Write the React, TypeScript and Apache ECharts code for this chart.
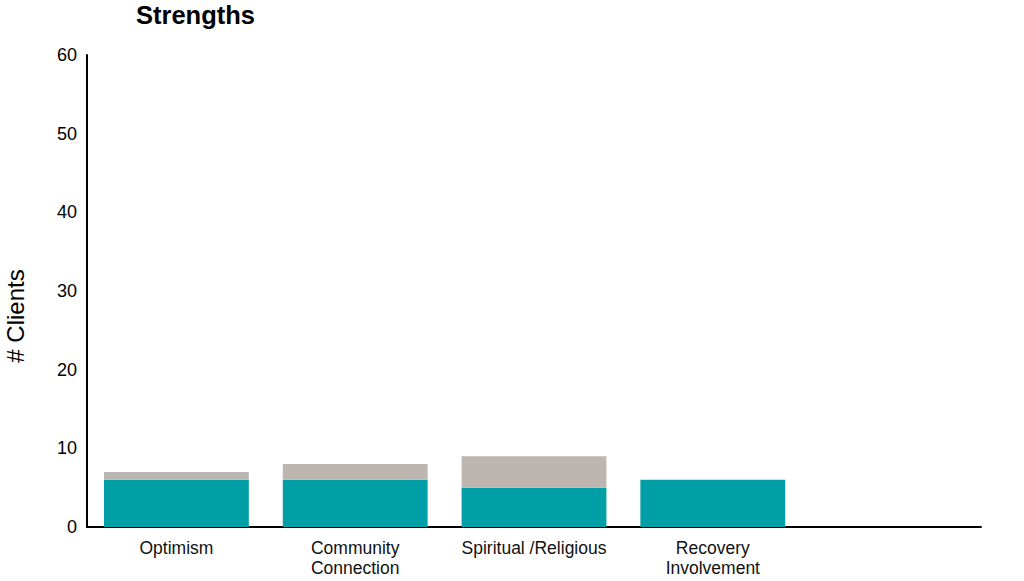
import React, { useEffect, useRef } from "react";
import * as echarts from "echarts";

const categories = ["Optimism", "Community\nConnection", "Spiritual /Religious", "Recovery\nInvolvement", ""];
const tealValues = [6, 6, 5, 6, 0];
const greyValues = [1, 2, 4, 0, 0];
const yTicks = { min: 0, max: 60, interval: 10 };

export default function App() {
  const ref = useRef<HTMLDivElement>(null);
  useEffect(() => {
    if (!ref.current) return;
    const chart = echarts.init(ref.current, null, { renderer: "svg" });
    chart.setOption({
      animation: false,
      backgroundColor: "#ffffff",
      title: {
        text: "Strengths",
        left: 136,
        top: 2,
        padding: 0,
        textStyle: {
          fontFamily: "Liberation Sans, Arial, sans-serif",
          fontWeight: "bold",
          fontSize: 25.5,
          lineHeight: 25,
          color: "#000",
        },
      },
      grid: { left: 87, right: 43, top: 55, bottom: 54, containLabel: false },
      xAxis: {
        type: "category",
        data: categories,
        axisLine: { lineStyle: { color: "#000", width: 2 } },
        axisTick: { show: false },
        axisLabel: {
          interval: 0,
          margin: 11,
          fontFamily: "Liberation Sans, Arial, sans-serif",
          fontSize: 17.5,
          lineHeight: 20,
          color: "#111",
        },
      },
      yAxis: {
        type: "value",
        min: yTicks.min,
        max: yTicks.max,
        interval: yTicks.interval,
        axisLine: { show: true, lineStyle: { color: "#000", width: 2 } },
        axisTick: { show: false },
        splitLine: { show: false },
        axisLabel: {
          margin: 10,
          fontFamily: "Liberation Sans, Arial, sans-serif",
          fontSize: 18,
          color: "#000",
        },
      },
      graphic: [
        {
          type: "text",
          x: 15,
          y: 316,
          rotation: Math.PI / 2,
          style: {
            text: "# Clients",
            fontFamily: "Liberation Sans, Arial, sans-serif",
            fontSize: 24,
            fill: "#000",
            align: "center",
            verticalAlign: "middle",
          },
        },
      ],
      series: [
        {
          type: "bar",
          stack: "s",
          data: tealValues,
          barCategoryGap: "19%",
          itemStyle: { color: "#009EA5" },
        },
        {
          type: "bar",
          stack: "s",
          data: greyValues,
          itemStyle: { color: "#BDB5AF" },
        },
      ],
    });
    return () => chart.dispose();
  }, []);
  return <div ref={ref} style={{ width: 1024, height: 581, position: "absolute", left: 0, top: 0 }} />;
}
